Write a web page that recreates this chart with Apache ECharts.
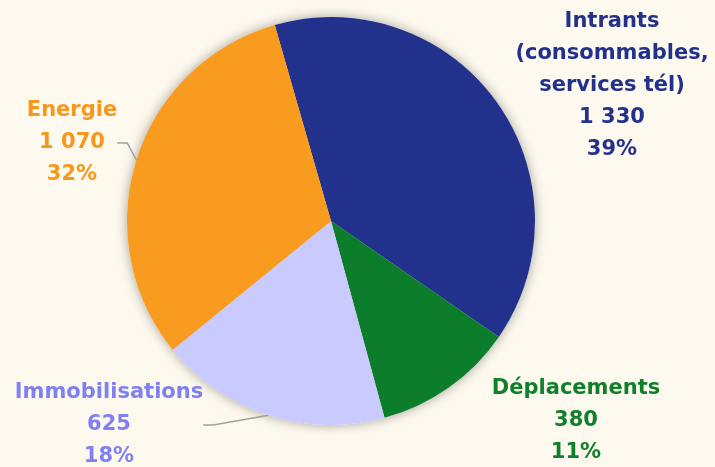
<!DOCTYPE html>
<html>
<head>
<meta charset="utf-8">
<script src="https://cdn.jsdelivr.net/npm/echarts@6/dist/echarts.min.js"></script>
<style>
html,body{margin:0;padding:0;background:#FDF9EE;}
#chart{width:715px;height:467px;}
</style>
</head>
<body>
<div id="chart"></div>
<script>
const categories = ['Intrants\n(consommables,\nservices tél)', 'Déplacements', 'Immobilisations', 'Energie'];
const values = [1330, 380, 625, 1070];

const sliceColors = ['#22318C', '#0B7D2B', '#C9CAFD', '#F89B1E'];
const labelColors = ['#22318C', '#107F2A', '#7F80F2', '#F7971C'];
const showLine = [false, false, true, true];
const labelPos = [[612, 86], [576, 421], [109, 425], [72, 143]];

function fmt(v) {
  return String(v).replace(/\B(?=(\d{3})+(?!\d))/g, ' ');
}

const pieCommon = {
  type: 'pie',
  center: [331, 221],
  radius: 204,
  startAngle: 106,
  clockwise: true,
  percentPrecision: 0
};

const chart = echarts.init(document.getElementById('chart'));
chart.setOption({
  backgroundColor: '#FDF9EE',
  animation: false,
  series: [
    Object.assign({}, pieCommon, {
      silent: true,
      z: 1,
      data: categories.map((c, i) => ({ name: c, value: values[i] })),
      itemStyle: {
        color: '#FDF9EE',
        shadowBlur: 12,
        shadowColor: 'rgba(0,0,0,0.35)'
      },
      label: { show: false },
      labelLine: { show: false }
    }),
    Object.assign({}, pieCommon, {
      z: 2,
      data: categories.map((c, i) => ({
        name: c,
        value: values[i],
        itemStyle: { color: sliceColors[i] },
        label: { color: labelColors[i] },
        labelLine: { show: showLine[i] }
      })),
      label: {
        show: true,
        position: 'outside',
        fontFamily: 'DejaVu Sans',
        fontWeight: 'bold',
        fontSize: 21,
        lineHeight: 32,
        align: 'center',
        overflow: 'none',
        formatter: p => p.name + '\n' + fmt(p.value) + '\n' + p.percent + '%'
      },
      labelLine: {
        show: true,
        length: 10,
        length2: 10,
        lineStyle: { color: '#A0A0A0', width: 1.5 }
      },
      labelLayout: function (params) {
        const pos = labelPos[params.dataIndex];
        return { x: pos[0], y: pos[1], align: 'center', verticalAlign: 'middle' };
      }
    })
  ]
});
</script>
</body>
</html>
